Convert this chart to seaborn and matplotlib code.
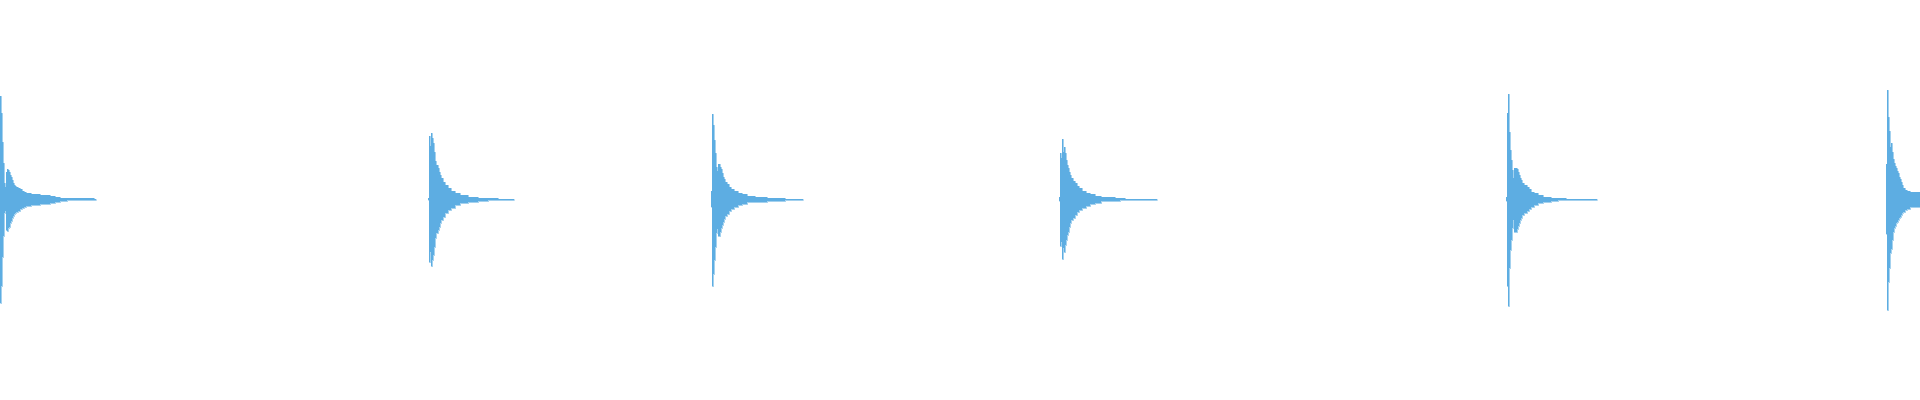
import numpy as np
import pandas as pd
import seaborn as sns
import matplotlib
matplotlib.use("Agg")
import matplotlib.pyplot as plt

# onset of each hit (x, in pixel-ish time units across 0..1920)
onsets = [0, 428, 711, 1059, 1506, 1886]

# per hit: step start offsets from onset, end of the decay tail,
# upper and lower envelope amplitude for each step
off1 = [0, 1, 2, 3, 4, 5, 6, 7, 8, 9, 10, 11, 12, 13, 14, 15, 16, 18, 20, 22, 24, 26, 28, 31, 35, 40, 45, 50, 55, 60, 67, 94]
up1 = [103, 86, 57, 36, 16, 12, 27, 30, 29, 27, 24, 22, 19, 16, 14, 13, 12, 11, 10, 8.5, 7.5, 6.5, 6, 5.5, 5, 4.5, 4, 3.5, 2.5, 1.5, 1, 0.5]
lo1 = [104, 87, 58, 37, 14, 12, 31, 32, 29, 28, 24, 22, 19, 17, 15, 14, 13, 12, 10, 9, 8, 7, 6.5, 6, 5.5, 5, 4.5, 3.5, 2.5, 1.5, 1, 0.5]

off2 = [0, 1, 2, 3, 4, 5, 6, 7, 8, 10, 11, 12, 13, 15, 17, 20, 23, 27, 32, 40, 50, 60, 70]
up2 = [1, 63, 53, 66, 61, 56, 47, 38, 34, 31, 27.5, 24, 21, 17.5, 14, 11, 8.5, 6, 4, 2.5, 1.5, 1, 0.5]
lo2 = [1, 63, 53, 66.5, 61, 56, 48, 39, 34, 31, 27.5, 24, 21, 17.5, 14, 11, 8.5, 6, 4, 2.5, 1.5, 1, 0.5]

off3 = [0, 1, 2, 3, 4, 5, 6, 7, 9, 10, 11, 12, 13, 14, 16, 18, 20, 23, 27, 31, 36, 44, 56, 74]
up3 = [8, 85, 74, 59, 46, 32, 28, 35, 32, 30, 26, 22, 20, 17, 15, 12, 10, 8, 6, 5, 3, 2.3, 1.3, 0.5]
lo3 = [8, 87, 75, 61, 48, 34, 30, 37, 33, 29, 26, 22.5, 20, 17, 15, 12, 10, 8, 6, 5, 3, 2.3, 1.3, 0.5]

off4 = [0, 1, 2, 3, 4, 5, 6, 7, 8, 9, 10, 11, 12, 14, 16, 18, 20, 23, 27, 31, 36, 42, 56, 61, 66]
up4 = [2, 46, 41, 60, 47.5, 52, 46, 39, 34, 31, 27.5, 24, 21, 18.5, 16, 13, 11, 8.5, 6.5, 5, 3.3, 2, 1.3, 1, 0.5]
lo4 = [2, 46.5, 42.5, 60, 49, 52.5, 46, 41, 36, 32.5, 27.5, 24, 21, 18.5, 16, 13, 11, 8.5, 6.5, 5, 3.3, 2, 2, 1, 0.5]

off5 = [0, 1, 2, 3, 4, 5, 6, 7, 8, 11, 12, 13, 14, 15, 16, 18, 21, 23, 25, 28, 32, 37, 45, 52, 60, 68]
up5 = [2, 86, 105, 67, 49, 39, 29, 21, 31, 30, 27, 24, 21, 19, 16, 14, 12, 10, 7.5, 6, 4, 2.3, 1.7, 1, 0.7, 0.5]
lo5 = [2, 87, 107, 69, 51, 41, 29, 21, 33, 30, 27, 24, 21, 19, 16, 14, 12, 10, 7.5, 6, 4, 2.3, 1.7, 1, 0.7, 0.5]

off6 = [0, 1, 2, 3, 4, 5, 6, 7, 8, 9, 10, 11, 12, 13, 14, 15, 16, 17, 19, 21, 24]
up6 = [35, 109, 82, 68, 52, 56, 47, 40, 36, 33, 31, 28, 26, 22, 20, 17, 14, 11, 9, 8, 7]
lo6 = [35, 111, 83, 69, 54, 50, 41, 33, 29, 27, 24, 23, 21, 19, 18, 16, 14, 13, 11, 9.5, 8]

tail_ends = [96, 86, 92, 98, 91, 34]

hits = [(off1, up1, lo1), (off2, up2, lo2), (off3, up3, lo3),
        (off4, up4, lo4), (off5, up5, lo5), (off6, up6, lo6)]

color = "#5DADE2"

rows = []
for i, ((off, up, lo), t0, end) in enumerate(zip(hits, onsets, tail_ends)):
    xs = [t0 + o for o in off] + [t0 + end]
    ups = list(up) + [up[-1]]
    los = list(lo) + [lo[-1]]
    for x, u, l in zip(xs, ups, los):
        rows.append({"hit": i, "t": x, "upper": u, "lower": -l})
df = pd.DataFrame(rows)

sns.set_theme(style="white")
fig = plt.figure(figsize=(19.2, 4), dpi=100)
ax = fig.add_axes([0, 0, 1, 1])

for i, g in df.groupby("hit"):
    ax.fill_between(g["t"], g["lower"], g["upper"], step="post",
                    color=color, linewidth=0)
sns.lineplot(data=df, x="t", y="upper", units="hit", estimator=None,
             drawstyle="steps-post", color=color, linewidth=0.4, ax=ax)
sns.lineplot(data=df, x="t", y="lower", units="hit", estimator=None,
             drawstyle="steps-post", color=color, linewidth=0.4, ax=ax)

ax.set_xlim(0, 1920)
ax.set_ylim(-200.7, 199.3)
ax.axis("off")
fig.savefig("out.png", dpi=100, facecolor="white")
